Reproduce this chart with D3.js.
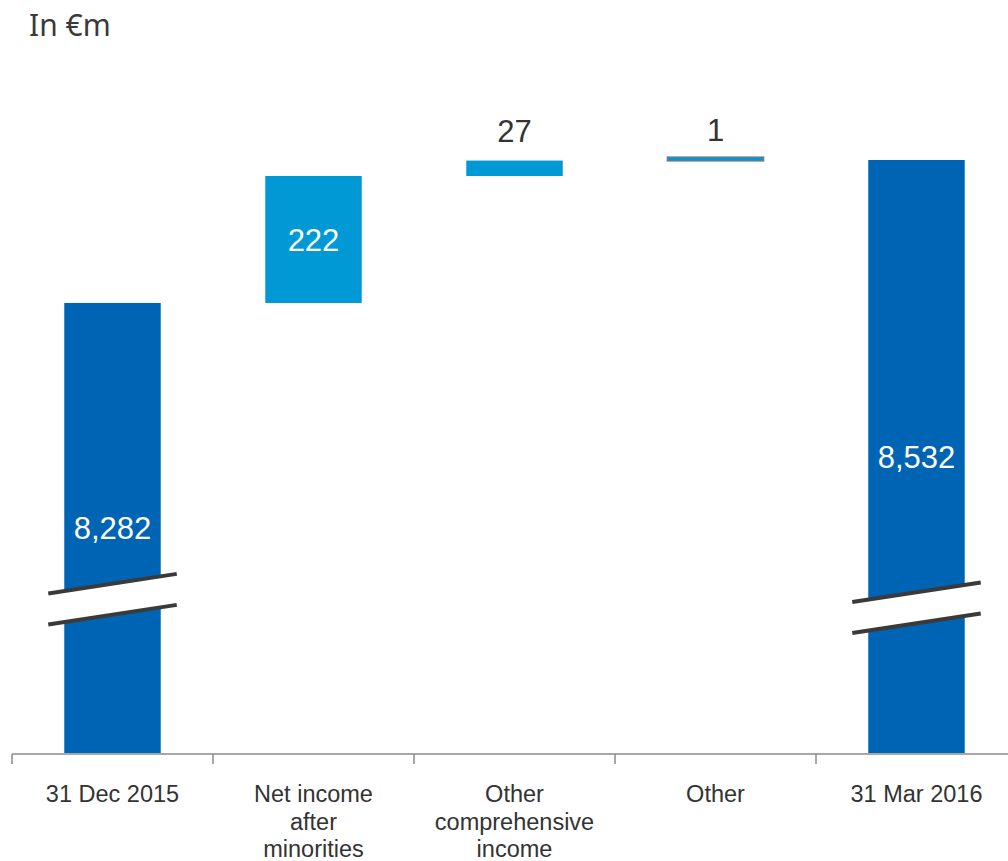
<!DOCTYPE html>
<html lang="en">
<head>
<meta charset="UTF-8">
<title>Equity bridge</title>
<style>
    body { margin: 0; background: #fff; }
    .cat-label { font-family: "Liberation Sans", Arial, sans-serif; font-size: 23.5px; fill: #333; }
    .val-label { font-family: "Liberation Sans", Arial, sans-serif; font-size: 31px; }
    .unit-label { font-family: "Noto Sans", "Open Sans", sans-serif; font-size: 30px; fill: #3a3a3a; }
</style>
</head>
<body>
<div id="chart"></div>
<script src="https://cdn.jsdelivr.net/npm/d3@7/dist/d3.min.js"></script>
<script>
    // data
    var categories = ["31 Dec 2015", "Net income after minorities", "Other comprehensive income", "Other", "31 Mar 2016"];
    var tickLabels = [["31 Dec 2015"], ["Net income", "after", "minorities"], ["Other", "comprehensive", "income"], ["Other"], ["31 Mar 2016"]];
    var kinds = ["total", "delta", "delta", "delta", "total"];
    var values = [8282, 222, 27, 1, 8532];
    var valueLabels = ["8,282", "222", "27", "1", "8,532"];
    var breakAt = [7764, null, null, null, 7749];   // where the axis break is drawn on total bars

    var width = 1008, height = 861;
    var colDark = "#0064b4", colLight = "#0099d5";

    var svg = d3.select("#chart").append("svg")
        .attr("width", width)
        .attr("height", height);

    // scales
    var x = d3.scaleBand().domain(categories).range([12, 1017])
        .paddingInner(0.52).paddingOuter(0.26);
    var y = d3.scaleLinear().domain([7495, 8532]).range([753, 160]);

    // build waterfall steps
    var running = 0;
    var bars = categories.map(function(c, i) {
        var lo, hi;
        if (kinds[i] === "total") {
            lo = y.domain()[0]; hi = values[i]; running = values[i];
        } else {
            lo = running; hi = running + values[i]; running = hi;
        }
        return {cat: c, lo: lo, hi: hi, kind: kinds[i], label: valueLabels[i], brk: breakAt[i], v: values[i]};
    });

    // tiny bars get a minimum height and a grey outline
    var minH = 4;
    function barH(d) { return y(d.lo) - y(d.hi); }

    // unit title
    svg.append("text")
        .attr("class", "unit-label")
        .attr("x", 29)
        .attr("y", 36)
        .text("In \u20acm");

    // bars
    svg.selectAll("rect.bar")
        .data(bars)
        .enter().append("rect")
        .attr("class", "bar")
        .attr("x", function(d) { return x(d.cat); })
        .attr("width", x.bandwidth())
        .attr("y", function(d) {
            return barH(d) < minH ? y(d.hi) - minH + 1 : y(d.hi);
        })
        .attr("height", function(d) { return Math.max(minH, barH(d)); })
        .attr("fill", function(d) { return d.kind === "total" ? colDark : colLight; })
        .attr("stroke", function(d) { return barH(d) < minH ? "#7a7a7a" : "none"; })
        .attr("stroke-width", 1.2);

    // axis break marks on total bars
    var slope = 20 / 131;
    var ext = 16;
    bars.filter(function(d) { return d.brk !== null; }).forEach(function(d) {
        var x0 = x(d.cat) - ext, x1 = x(d.cat) + x.bandwidth() + ext;
        var cy = y(d.brk), cx = (x0 + x1) / 2;
        var gap = 15.5;
        var yl = function(xx, off) { return cy + off - (xx - cx) * slope; };
        svg.append("path")
            .attr("d", "M" + x0 + "," + yl(x0, -gap) + "L" + x1 + "," + yl(x1, -gap) +
                       "L" + x1 + "," + yl(x1, gap) + "L" + x0 + "," + yl(x0, gap) + "Z")
            .attr("fill", "#fff");
        [-gap, gap].forEach(function(off) {
            svg.append("line")
                .attr("x1", x0).attr("y1", yl(x0, off))
                .attr("x2", x1).attr("y2", yl(x1, off))
                .attr("stroke", "#3a3a3a")
                .attr("stroke-width", 4);
        });
    });

    // value labels
    svg.selectAll("text.val-label")
        .data(bars)
        .enter().append("text")
        .attr("class", "val-label")
        .attr("text-anchor", "middle")
        .attr("x", function(d) { return x(d.cat) + x.bandwidth() / 2; })
        .attr("y", function(d) {
            if (barH(d) > 60) return (y(d.lo) + y(d.hi)) / 2;
            return y(d.hi) - 30;
        })
        .attr("dy", "0.36em")
        .attr("fill", function(d) { return barH(d) > 60 ? "#fff" : "#333"; })
        .text(function(d) { return d.label; });

    // x axis
    var step = x.step();
    var axisY = y(y.domain()[0]) + 1;
    var axisG = svg.append("g");
    axisG.append("line")
        .attr("x1", 12).attr("x2", width)
        .attr("y1", axisY).attr("y2", axisY)
        .attr("stroke", "#8a8a8a").attr("stroke-width", 1.5);
    categories.forEach(function(c) {
        var bx = x(c) - (step - x.bandwidth()) / 2;
        axisG.append("line")
            .attr("x1", bx).attr("x2", bx)
            .attr("y1", axisY).attr("y2", axisY + 10)
            .attr("stroke", "#8a8a8a").attr("stroke-width", 1.5);
    });

    // category labels
    categories.forEach(function(c, i) {
        var t = svg.append("text")
            .attr("class", "cat-label")
            .attr("text-anchor", "middle")
            .attr("x", x(c) + x.bandwidth() / 2)
            .attr("y", 802);
        tickLabels[i].forEach(function(line, j) {
            t.append("tspan")
                .attr("x", x(c) + x.bandwidth() / 2)
                .attr("dy", j === 0 ? 0 : 27.5)
                .text(line);
        });
    });
</script>
</body>
</html>
